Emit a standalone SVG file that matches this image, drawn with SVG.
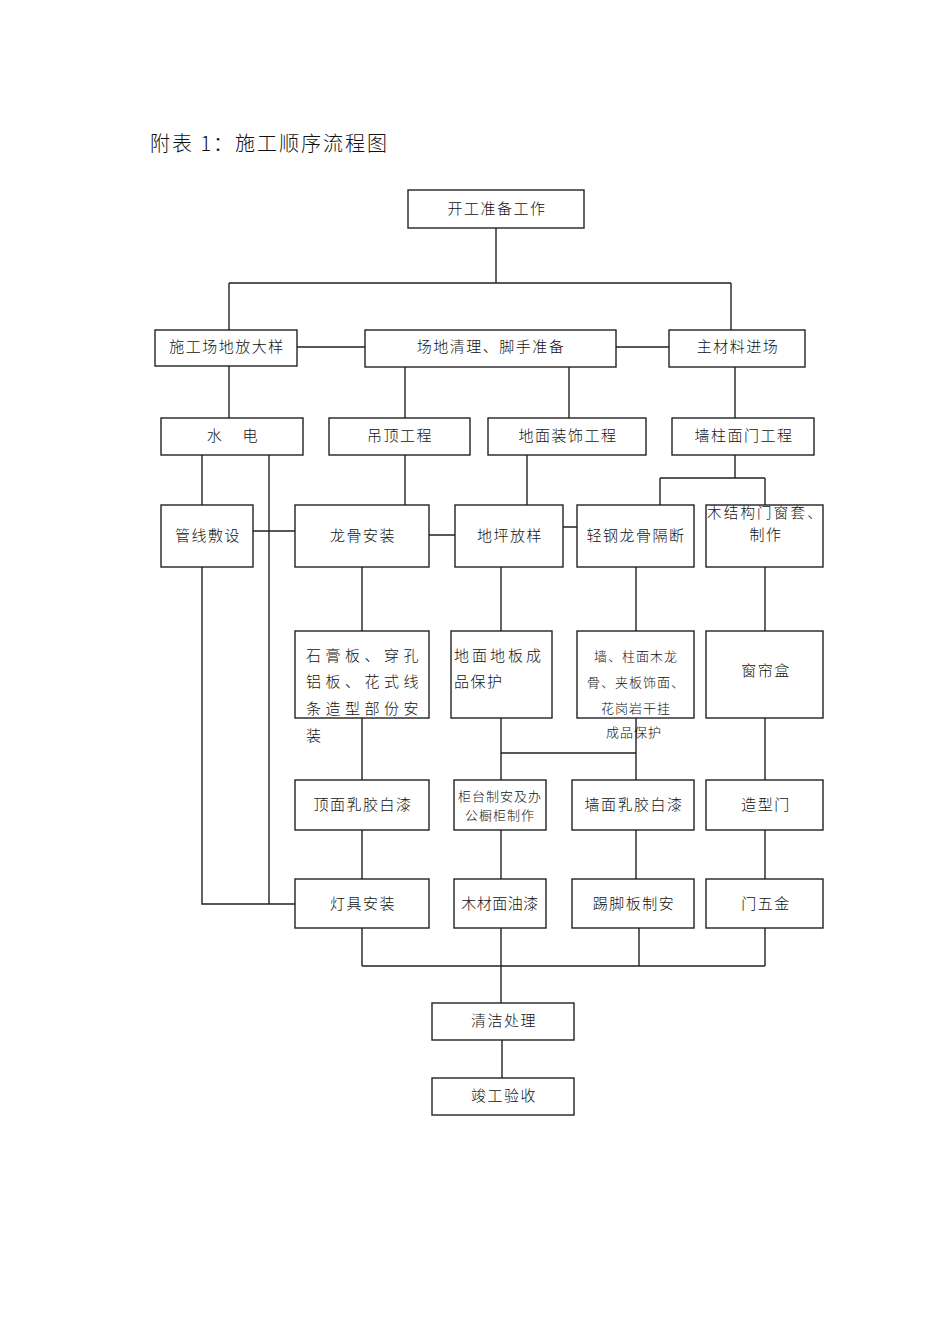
<svg xmlns="http://www.w3.org/2000/svg" width="950" height="1344" viewBox="0 0 950 1344">
<style>
.b{fill:#fff;stroke:#222;stroke-width:1.4}
.c{fill:none;stroke:#222;stroke-width:1.4}
text{font-family:"Noto Sans CJK SC","Liberation Serif",serif;font-size:15px;fill:#111;font-weight:300;letter-spacing:1.5px}
.m{text-anchor:middle}
.s{font-size:13px;letter-spacing:1px}
.t{font-size:20px;letter-spacing:2px}
</style>
<rect width="950" height="1344" fill="#fff"/>
<text class="t" x="150" y="151">附表 1：施工顺序流程图</text>
<g id="connectors">
<path class="c" d="M496 228V283M229 283H731M229 283V330M731 283V330"/>
<path class="c" d="M297 347H365M616 347H669"/>
<path class="c" d="M229 366V418M405 367V418M569 367V418M735 367V418"/>
<path class="c" d="M202 455V505M269 455V904M405 455V505M527 455V505"/>
<path class="c" d="M735 455V478M660 478H765M660 478V505M765 478V505"/>
<path class="c" d="M253 531H295M429 535H455M563 527H577"/>
<path class="c" d="M202 567V904H295"/>
<path class="c" d="M362 567V631M501 567V631M636 567V631M765 567V631"/>
<path class="c" d="M362 718V780M501 718V780M501 753H636M636 718V780M765 718V780"/>
<path class="c" d="M362 830V879M501 830V879M636 830V879M765 830V879"/>
<path class="c" d="M362 928V966M501 928V1003M639 928V966M765 928V966M362 966H765"/>
<path class="c" d="M502 1040V1078"/>
</g>
<g id="n1"><rect class="b" x="408" y="190" width="176" height="38"/><text class="m" x="497" y="214">开工准备工作</text></g>
<g id="n2"><rect class="b" x="155" y="330" width="142" height="36"/><text class="m" x="227" y="352">施工场地放大样</text></g>
<g id="n3"><rect class="b" x="365" y="330" width="251" height="37"/><text class="m" x="491" y="352">场地清理、脚手准备</text></g>
<g id="n4"><rect class="b" x="669" y="330" width="136" height="37"/><text class="m" x="738" y="352">主材料进场</text></g>
<g id="n5"><rect class="b" x="161" y="418" width="142" height="37"/><text class="m" x="233" y="441" xml:space="preserve">水    电</text></g>
<g id="n6"><rect class="b" x="329" y="418" width="141" height="37"/><text class="m" x="400" y="441">吊顶工程</text></g>
<g id="n7"><rect class="b" x="488" y="418" width="158" height="37"/><text class="m" x="568" y="441">地面装饰工程</text></g>
<g id="n8"><rect class="b" x="672" y="418" width="142" height="37"/><text class="m" x="744" y="441">墙柱面门工程</text></g>
<g id="n9"><rect class="b" x="161" y="505" width="92" height="62"/><text class="m" x="208" y="541">管线敷设</text></g>
<g id="n10"><rect class="b" x="295" y="505" width="134" height="62"/><text class="m" x="363" y="541">龙骨安装</text></g>
<g id="n11"><rect class="b" x="455" y="505" width="108" height="62"/><text class="m" x="510" y="541">地坪放样</text></g>
<g id="n12"><rect class="b" x="577" y="505" width="117" height="62"/><text class="m" x="636" y="541">轻钢龙骨隔断</text></g>
<g id="n13"><rect class="b" x="706" y="505" width="117" height="62"/><text x="707" y="518" style="font-size:14.5px;letter-spacing:2.2px">木结构门窗套、</text><text class="m" x="766" y="540">制作</text></g>
<g id="n14"><rect class="b" x="295" y="631" width="134" height="87"/><text x="306" y="661" style="letter-spacing:4.5px">石膏板、穿孔</text><text x="306" y="687" style="letter-spacing:4.5px">铝板、花式线</text><text x="306" y="714" style="letter-spacing:4.5px">条造型部份安</text><text x="306" y="741">装</text></g>
<g id="n15"><rect class="b" x="451" y="631" width="101" height="87"/><text x="454" y="661" style="letter-spacing:3px">地面地板成</text><text x="454" y="687">品保护</text></g>
<g id="n16"><rect class="b" x="577" y="631" width="117" height="87"/><text class="m s" x="636" y="661">墙、柱面木龙</text><text class="m s" x="636" y="687">骨、夹板饰面、</text><text class="m s" x="636" y="713">花岗岩干挂</text><text class="m s" x="634" y="737">成品保护</text></g>
<g id="n17"><rect class="b" x="706" y="631" width="117" height="87"/><text class="m" x="766" y="676">窗帘盒</text></g>
<g id="n18"><rect class="b" x="295" y="780" width="134" height="50"/><text class="m" x="363" y="810">顶面乳胶白漆</text></g>
<g id="n19"><rect class="b" x="454" y="780" width="92" height="50"/><text class="m s" x="500" y="801">柜台制安及办</text><text class="m s" x="500" y="820">公橱柜制作</text></g>
<g id="n20"><rect class="b" x="572" y="780" width="122" height="50"/><text class="m" x="634" y="810">墙面乳胶白漆</text></g>
<g id="n21"><rect class="b" x="706" y="780" width="117" height="50"/><text class="m" x="766" y="810">造型门</text></g>
<g id="n22"><rect class="b" x="295" y="879" width="134" height="49"/><text class="m" x="363" y="909">灯具安装</text></g>
<g id="n23"><rect class="b" x="454" y="879" width="92" height="49"/><text class="m" x="500" y="909" style="letter-spacing:0.5px">木材面油漆</text></g>
<g id="n24"><rect class="b" x="572" y="879" width="122" height="49"/><text class="m" x="634" y="909">踢脚板制安</text></g>
<g id="n25"><rect class="b" x="706" y="879" width="117" height="49"/><text class="m" x="766" y="909">门五金</text></g>
<g id="n26"><rect class="b" x="432" y="1003" width="142" height="37"/><text class="m" x="504" y="1026">清洁处理</text></g>
<g id="n27"><rect class="b" x="432" y="1078" width="142" height="37"/><text class="m" x="504" y="1101">竣工验收</text></g>
</svg>
